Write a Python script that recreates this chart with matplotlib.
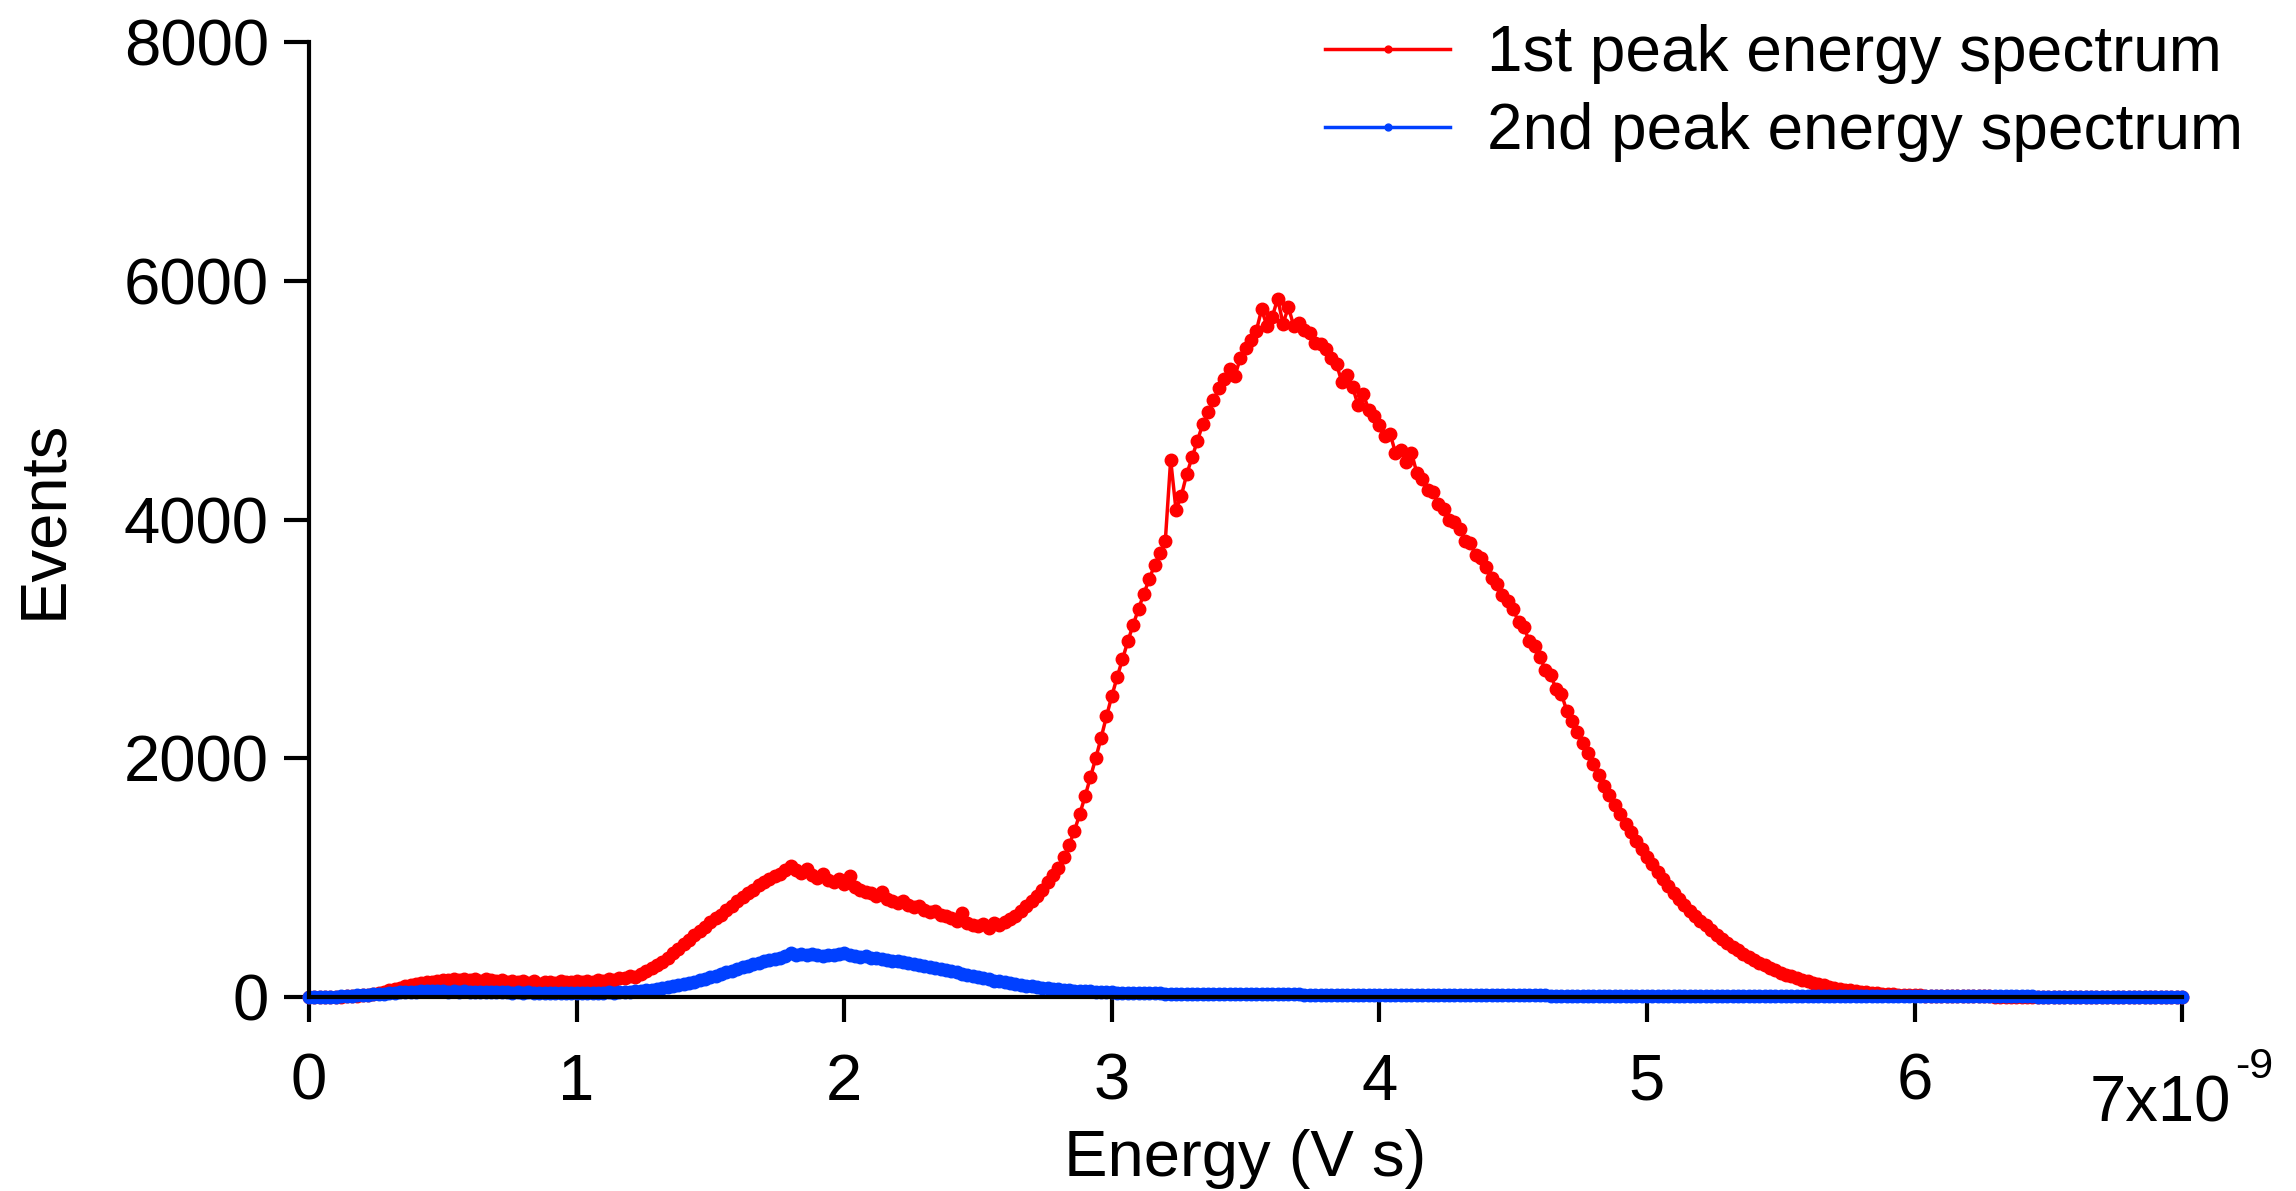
import numpy as np
import matplotlib
matplotlib.use("Agg")
import matplotlib.pyplot as plt

plt.rcParams['font.family'] = ['Liberation Sans', 'DejaVu Sans']

# bin centres, 0 .. 7 ns in 0.02 ns steps
energy = np.linspace(0, 7e-9, 351)

first_peak = [
    0, 0, 1, 1, 2,  3, 4, 6, 8, 11,  15, 20, 27, 35, 44,  55, 66, 78, 88, 97,
    108, 115, 122, 128, 135,  140, 146, 150, 143, 152,  145, 150, 138, 147, 140,
    133, 141, 128, 136, 125,  131, 120, 138, 112, 128,  125, 118, 132, 122, 127,
    130, 124, 135, 128, 140,  136, 148, 142, 155, 160,  175, 168, 195, 215, 240,
    265, 295, 330, 370, 405,  440, 480, 520, 555, 590,  625, 660, 690, 725, 760,
    800, 835, 870, 900, 935,  960, 985, 1010, 1030, 1060,  1100, 1065, 1040, 1075, 1020,
    1000, 1030, 980, 960, 990,  950, 1010, 920, 900, 880,  870, 850, 880, 820, 800,
    790, 805, 770, 750, 760,  730, 710, 720, 690, 680,  660, 640, 700, 620, 600,
    595, 610, 580, 620, 600,  630, 650, 680, 720, 760,  800, 850, 900, 960, 1020,
    1080, 1170, 1270, 1390, 1530,  1680, 1840, 2000, 2170, 2350,
    2520, 2680, 2830, 2980, 3120,  3250, 3380, 3500, 3620, 3720,
    3820, 4500, 4080, 4200, 4380,  4520, 4660, 4800, 4900, 5000,
    5100, 5180, 5260, 5200, 5350,  5440, 5500, 5580, 5760, 5620,
    5700, 5850, 5640, 5780, 5620,  5650, 5590, 5560, 5480, 5470,
    5430, 5350, 5300, 5150, 5210,  5110, 4960, 5050, 4920, 4870,
    4790, 4700, 4720, 4560, 4580,  4480, 4560, 4390, 4340, 4250,
    4230, 4130, 4090, 4000, 3980,  3920, 3820, 3800, 3700, 3680,
    3600, 3510, 3460, 3370, 3320,  3250, 3140, 3100, 2980, 2940,
    2850, 2740, 2700, 2580, 2540,  2400, 2310, 2220, 2130, 2040,
    1950, 1860, 1770, 1690, 1610,  1530, 1450, 1380, 1310, 1240,
    1170, 1110, 1050, 990, 930,  870, 820, 770, 720, 680,
    640, 600, 560, 520, 485,  450, 420, 390, 360, 335,
    310, 285, 265, 245, 225,  205, 188, 172, 158, 145,
    132, 120, 108, 97, 87,  78, 70, 62, 55, 49,
    44, 39, 35, 31, 28,  25, 22, 20, 18, 16,
    14, 13, 12, 11, 10,  9, 8, 8, 7, 7,  6, 6, 5, 5, 5,  4, 4, 4, 4, 3,
    3, 3, 3, 3, 3,  2, 2, 2, 2, 2,  2, 2, 2, 1, 1,  1, 1, 1, 1, 1,
    1, 1, 1, 1, 1,  0, 0, 0, 0, 0,  0,
]

second_peak = [
    0, 1, 1, 2, 3,  4, 6, 8, 10, 13,  16, 19, 22, 26, 29,  32, 35, 38, 40, 42,
    44, 46, 48, 50, 47,  49, 45, 47, 43, 46,  42, 44, 40, 43, 39,  41, 38, 40, 37, 39,
    36, 38, 35, 37, 34,  36, 33, 35, 32, 34,  33, 35, 32, 34, 36,  35, 38, 37, 40, 42,
    45, 48, 52, 57, 62,  68, 75, 82, 90, 98,  108, 118, 128, 140, 152,
    165, 178, 192, 206, 220,  235, 248, 262, 274, 286,  298, 308, 318, 330, 345,
    372, 355, 360, 350, 358,  352, 345, 355, 348, 360,  366, 350, 342, 335, 345,
    330, 325, 318, 310, 305,  298, 290, 284, 276, 270,  262, 252, 244, 235, 226,
    216, 206, 196, 186, 176,  166, 156, 147, 138, 130,  122, 114, 107, 100, 94,
    88, 82, 77, 72, 68,  64, 60, 57, 54, 51,  48, 46, 44, 42, 40,
    38, 37, 36, 35, 34,  33, 32, 31, 30, 30,  29, 29, 28, 28, 27,  27, 26, 26, 26, 25,
    25, 25, 24, 24, 24,  23, 23, 23, 22, 22,  22, 22, 21, 21, 21,  21, 20, 20, 20, 20,
    20, 19, 19, 19, 19,  19, 18, 18, 18, 18,  18, 18, 17, 17, 17,  17, 17, 16, 16, 16,
    16, 16, 16, 15, 15,  15, 15, 15, 15, 14,  14, 14, 14, 14, 14,  13, 13, 13, 13, 13,
    13, 13, 12, 12, 12,  12, 12, 12, 12, 11,  11, 11, 11, 11, 11,  11, 11, 10, 10, 10,
    10, 10, 10, 10, 10,  10, 9, 9, 9, 9,  9, 9, 9, 9, 9,  9, 8, 8, 8, 8,
    8, 8, 8, 8, 8,  8, 8, 7, 7, 7,  7, 7, 7, 7, 7,  7, 7, 7, 7, 7,
    6, 6, 6, 6, 6,  6, 6, 6, 6, 6,  6, 6, 6, 6, 6,  5, 5, 5, 5, 5,
    5, 5, 5, 5, 5,  5, 5, 5, 5, 5,  5, 5, 5, 4, 4,  4, 4, 4, 4, 4,
    4, 4, 4, 4, 4,  4, 4, 4, 4, 4,  4, 4, 4, 4, 4,  4, 4, 4, 4, 4,  4,
]

x_ticks = [0, 1, 2, 3, 4, 5, 6, 7]
y_ticks = [0, 2000, 4000, 6000, 8000]

FS = 47

fig = plt.figure(figsize=(22.96, 11.91), dpi=100)
ax = fig.add_axes([0.1346, 0.1629, 0.8158, 0.8018])

ax.plot(energy, first_peak, color='#ff0000', lw=2.5, marker='o', ms=9,
        mec='#ff0000', mfc='#ff0000', clip_on=False, label='1st peak energy spectrum')
ax.plot(energy, second_peak, color='#0040ff', lw=2.5, marker='o', ms=9,
        mec='#0040ff', mfc='#0040ff', clip_on=False, label='2nd peak energy spectrum')

ax.set_xlim(0, 7e-9)
ax.set_ylim(0, 8000)
ax.set_xticks([t * 1e-9 for t in x_ticks])
ax.set_xticklabels([str(t) for t in x_ticks[:-1]] + [''])
ax.set_yticks(y_ticks)
ax.set_yticklabels([str(t) for t in y_ticks])

for side in ['top', 'right']:
    ax.spines[side].set_visible(False)
for side in ['left', 'bottom']:
    ax.spines[side].set_linewidth(3)
ax.tick_params(axis='both', direction='out', length=18, width=3, labelsize=FS)
ax.tick_params(axis='x', pad=22)
ax.tick_params(axis='y', pad=11)

# last x tick carries the axis multiplier
fig.text(2090 / 2296, 1 - 1122 / 1191, '7x10', fontsize=FS, ha='left', va='baseline')
fig.text(2235 / 2296, 1 - 1078 / 1191, '-9', fontsize=31, ha='left', va='baseline')

ax.set_xlabel('Energy (V s)', fontsize=FS, labelpad=12)
ax.set_ylabel('Events', fontsize=FS, labelpad=36)

ax.legend(loc='upper left', bbox_to_anchor=(1319 / 2296, 0.985), bbox_transform=fig.transFigure,
          frameon=False, fontsize=46, handlelength=1.95, handletextpad=0.58,
          labelspacing=0.28, borderpad=0.1, borderaxespad=0, markerscale=0.55)

fig.savefig('out.png', dpi=100)
